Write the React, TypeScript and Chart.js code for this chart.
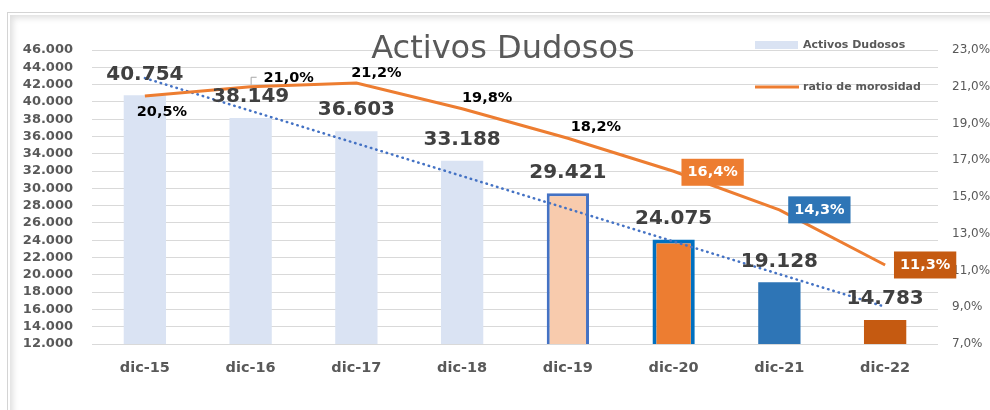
import React, { useEffect, useRef } from "react";
import { Chart, registerables } from "chart.js";

Chart.register(...registerables);

const FONT = "'DejaVu Sans', sans-serif";

// ---- data ----
const categories = ["dic-15", "dic-16", "dic-17", "dic-18", "dic-19", "dic-20", "dic-21", "dic-22"];
const activosDudosos = [40754, 38149, 36603, 33188, 29421, 24075, 19128, 14783];
const ratioMorosidad = [20.5, 21.0, 21.2, 19.8, 18.2, 16.4, 14.3, 11.3];
// dotted linear trend line of Activos Dudosos (end points)
const tendencia = [42750, null, null, null, null, null, null, 16300];

const leftMin = 12000;
const leftMax = 46000;
const leftStep = 2000;
const rightMin = 7;
const rightMax = 23;
const rightStep = 2;

const titleText = "Activos Dudosos";
const legendBars = "Activos Dudosos";
const legendLine = "ratio de morosidad";

// ---- styles ----
const barFill = ["#DAE3F3", "#DAE3F3", "#DAE3F3", "#DAE3F3", "#F8CBAD", "#ED7D31", "#2E75B6", "#C55A11"];
const barBorder = ["#DAE3F3", "#DAE3F3", "#DAE3F3", "#DAE3F3", "#4472C4", "#0070C0", "#2E75B6", "#C55A11"];
const barBorderW = [0, 0, 0, 0, 3, 4, 0, 0];
// label placement relative to the line point [dx, dy, boxColor|null, leader]
const lineLabelStyle: [number, number, string | null, boolean][] = [
  [17, 16, null, false],
  [38, -9, null, true],
  [20, -10, null, false],
  [25, -11, null, false],
  [28, -11, null, false],
  [39, 1, "#ED7D31", false],
  [40, 0, "#2E75B6", false],
  [40, 0, "#C55A11", false],
];

const fmtThousands = (n: number) => String(Math.round(n)).replace(/\B(?=(\d{3})+(?!\d))/g, ".");
const fmtPct = (v: number) => v.toFixed(1).replace(".", ",") + "%";

const overlayPlugin = {
  id: "overlay",
  afterDatasetsDraw(chart: any) {
    const ctx: CanvasRenderingContext2D = chart.ctx;
    const area = chart.chartArea;
    ctx.save();

    // title
    ctx.fillStyle = "#595959";
    ctx.font = `32px ${FONT}`;
    ctx.textAlign = "center";
    ctx.textBaseline = "alphabetic";
    ctx.fillText(titleText, (area.left + area.right) / 2 - 12, 58);

    // legend
    ctx.fillStyle = "#DAE3F3";
    ctx.fillRect(755, 41, 43, 8);
    ctx.strokeStyle = "#ED7D31";
    ctx.lineWidth = 3;
    ctx.beginPath();
    ctx.moveTo(755, 87);
    ctx.lineTo(799, 87);
    ctx.stroke();
    ctx.fillStyle = "#595959";
    ctx.font = `bold 11px ${FONT}`;
    ctx.textAlign = "left";
    ctx.textBaseline = "middle";
    ctx.fillText(legendBars, 803, 45);
    ctx.fillText(legendLine, 803, 87);

    // bar value labels
    const barMeta = chart.getDatasetMeta(2);
    ctx.font = `bold 20px ${FONT}`;
    ctx.fillStyle = "#404040";
    ctx.textAlign = "center";
    ctx.textBaseline = "middle";
    barMeta.data.forEach((el: any, i: number) => {
      ctx.fillText(fmtThousands(activosDudosos[i]), el.x, el.y - 21);
    });

    // line value labels
    const lineMeta = chart.getDatasetMeta(0);
    ctx.font = `bold 14.5px ${FONT}`;
    lineMeta.data.forEach((el: any, i: number) => {
      const [dx, dy, box, leader] = lineLabelStyle[i];
      const txt = fmtPct(ratioMorosidad[i]);
      const cx = el.x + dx;
      const cy = el.y + dy;
      if (box) {
        const w = ctx.measureText(txt).width + 12;
        const h = 27;
        ctx.fillStyle = box;
        ctx.fillRect(cx - w / 2, cy - h / 2, w, h);
        ctx.fillStyle = "#FFFFFF";
      } else {
        ctx.fillStyle = "#000000";
      }
      if (leader) {
        ctx.strokeStyle = "#A6A6A6";
        ctx.lineWidth = 1;
        ctx.beginPath();
        ctx.moveTo(el.x + 0.5, el.y - 2);
        ctx.lineTo(el.x + 0.5, cy - 0.5);
        ctx.lineTo(el.x + 6, cy - 0.5);
        ctx.stroke();
      }
      ctx.fillText(txt, cx, cy);
    });

    ctx.restore();
  },
};

export default function App() {
  const ref = useRef<HTMLCanvasElement | null>(null);

  useEffect(() => {
    if (!ref.current) return;
    Chart.defaults.font.family = FONT;
    const chart = new Chart(ref.current, {
      type: "bar",
      data: {
        labels: categories,
        datasets: [
          {
            type: "line",
            label: legendLine,
            data: ratioMorosidad,
            yAxisID: "y1",
            borderColor: "#ED7D31",
            backgroundColor: "#ED7D31",
            borderWidth: 3,
            pointRadius: 0,
            tension: 0,
            order: 0,
          } as any,
          {
            type: "line",
            label: "tendencia",
            data: tendencia,
            yAxisID: "y",
            spanGaps: true,
            borderColor: "#4472C4",
            borderWidth: 2.5,
            borderDash: [0.5, 5],
            borderCapStyle: "round",
            pointRadius: 0,
            order: 1,
          } as any,
          {
            type: "bar",
            label: legendBars,
            data: activosDudosos,
            yAxisID: "y",
            backgroundColor: barFill,
            borderColor: barBorder,
            borderWidth: barBorderW,
            barPercentage: 0.4,
            categoryPercentage: 1,
            order: 2,
          } as any,
        ],
      },
      options: {
        responsive: false,
        animation: false,
        layout: { padding: { top: 50, left: 0, right: 0, bottom: 0 } },
        plugins: {
          legend: { display: false },
          title: { display: false },
          tooltip: { enabled: false },
        },
        scales: {
          x: {
            type: "category",
            offset: true,
            grid: { display: false, drawTicks: false },
            border: { display: false },
            ticks: {
              padding: 16,
              maxRotation: 0,
              autoSkip: false,
              color: "#595959",
              font: { family: FONT, size: 14.5, weight: "bold" },
            },
            afterFit: (s: any) => {
              s.height = 66;
            },
          },
          y: {
            position: "left",
            min: leftMin,
            max: leftMax,
            ticks: {
              stepSize: leftStep,
              autoSkip: false,
              padding: 19,
              color: "#595959",
              font: { family: FONT, size: 13, weight: "bold" },
              callback: (v: any) => fmtThousands(Number(v)),
            },
            grid: { color: "#D9D9D9", lineWidth: 1, drawTicks: false },
            border: { display: false },
            afterFit: (s: any) => {
              s.width = 92;
            },
          },
          y1: {
            position: "right",
            min: rightMin,
            max: rightMax,
            ticks: {
              stepSize: rightStep,
              autoSkip: false,
              padding: 14,
              color: "#595959",
              font: { family: FONT, size: 12 },
              callback: (v: any) => fmtPct(Number(v)),
            },
            grid: { display: false, drawTicks: false },
            border: { display: false },
            afterFit: (s: any) => {
              s.width = 52;
            },
          },
        },
      } as any,
      plugins: [overlayPlugin],
    });
    return () => chart.destroy();
  }, []);

  return (
    <div
      style={{
        position: "fixed",
        left: 0,
        top: 0,
        width: 990,
        height: 410,
        overflow: "hidden",
        background: "#FFFFFF",
      }}
    >
      <div
        style={{
          position: "absolute",
          left: 7,
          top: 12,
          width: 1000,
          height: 420,
          border: "1px solid #D4D4D4",
          boxShadow: "inset 2px 2px 0 #FFFFFF, inset 5px 5px 6px rgba(0,0,0,0.13)",
          background: "#FFFFFF",
        }}
      />
      <canvas
        ref={ref}
        width={990}
        height={410}
        style={{ position: "absolute", left: 0, top: 0, width: 990, height: 410 }}
      />
    </div>
  );
}
